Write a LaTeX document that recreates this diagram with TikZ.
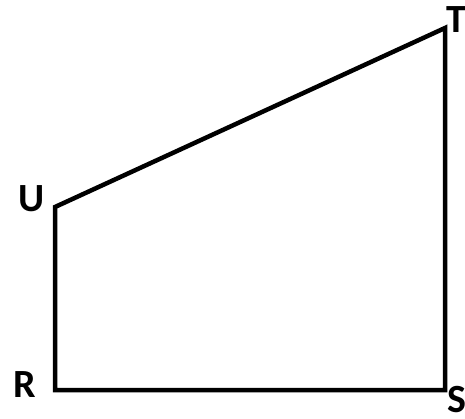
\documentclass[tikz,border=0pt]{standalone}
\usepackage{fontspec}
\setmainfont{Carlito}
\begin{document}
\begin{tikzpicture}[x=1pt,y=1pt,
  lbl/.style={font=\fontsize{40}{40}\selectfont\bfseries, inner sep=0pt},
  edge/.style={line width=4.5pt, line join=miter}]
\useasboundingbox (0,0) rectangle (465,418);
\coordinate (R) at (55,28);
\coordinate (S) at (445,28);
\coordinate (T) at (445,390);
\coordinate (U) at (55,211);
\draw[edge] (R) -- (S) -- (T) -- (U) -- cycle;
\node[lbl] (lU) at (32,219) {U};
\node[lbl] (lR) at (25,33) {R};
\node[lbl, anchor=west] (lT) at (446,398) {T};
\node[lbl, anchor=west] (lS) at (447,18) {S};
\end{tikzpicture}
\end{document}
